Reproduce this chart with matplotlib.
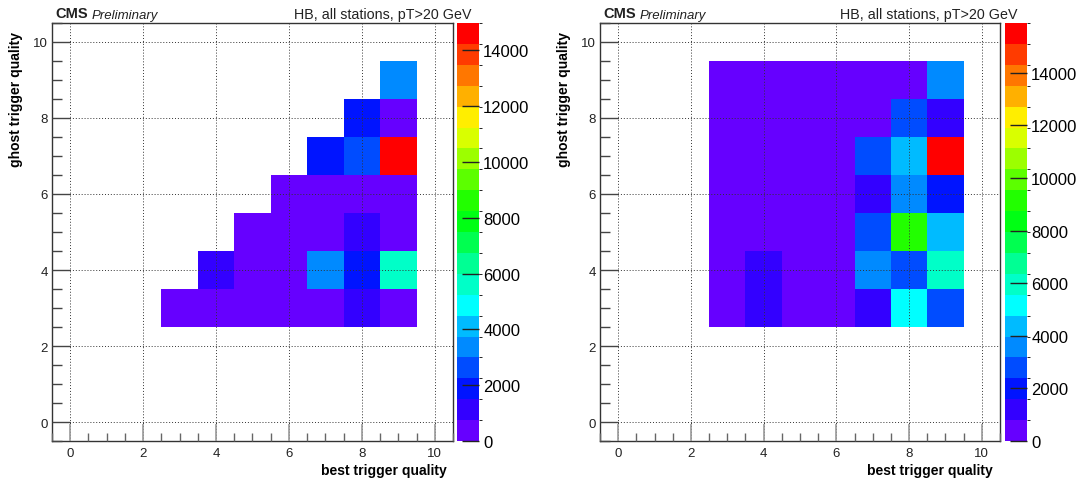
import matplotlib.pyplot as plt
import numpy as np
from matplotlib.colors import ListedColormap, BoundaryNorm
from matplotlib.ticker import MultipleLocator

plt.rcParams['font.family'] = ['Liberation Sans', 'DejaVu Sans']

# bin edges of the filled region (best / ghost trigger quality 3..9)
bin_edges = np.arange(2.5, 10.5, 1.0)

# counts: rows = ghost quality 3..9 (bottom to top), columns = best quality 3..9; 0 = empty bin
counts_left = [
    [300, 350, 300, 250, 300, 1000, 400],
    [0, 1100, 500, 400, 3400, 1800, 5600],
    [0, 0, 450, 350, 300, 900, 400],
    [0, 0, 0, 200, 250, 300, 350],
    [0, 0, 0, 0, 1900, 2600, 14980],
    [0, 0, 0, 0, 0, 1700, 600],
    [0, 0, 0, 0, 0, 0, 3400],
]
counts_right = [
    [300, 1200, 350, 300, 1300, 5100, 2800],
    [300, 1200, 400, 350, 3500, 2800, 5900],
    [250, 300, 300, 300, 2800, 9100, 4300],
    [250, 250, 300, 350, 1300, 3500, 1900],
    [200, 250, 300, 350, 2800, 4300, 15890],
    [200, 200, 250, 300, 300, 2800, 1300],
    [150, 200, 200, 250, 300, 400, 3500],
]

title = "HB, all stations, pT>20 GeV"
cbar_ticks = [0, 2000, 4000, 6000, 8000, 10000, 12000, 14000]

# ROOT-like violet -> red palette, 20 contour levels
palette = ['#6600ff', '#3300ff', '#0014ff', '#004cff', '#008aff', '#00bbff', '#00ffff',
           '#00ffc8', '#00ff94', '#00ff50', '#00ff14', '#22ff00', '#5cff00', '#9cff00',
           '#d9ff00', '#ffee00', '#ffb000', '#ff7700', '#ff3b00', '#ff0000']
cmap = ListedColormap(palette)

W, H = 1084, 481
fig = plt.figure(figsize=(W / 100, H / 100), dpi=100)


def box(x0, y0, x1, y1):
    return [x0 / W, 1 - y1 / H, (x1 - x0) / W, (y1 - y0) / H]


def panel(counts, ax_x, cb_x, cms_x, title_x, xlab_x, ylab_x):
    ax = fig.add_axes(box(ax_x[0], 24, ax_x[1], 442))
    cax = fig.add_axes(box(cb_x[0], 24, cb_x[1], 442))

    z = np.ma.masked_equal(np.array(counts, dtype=float), 0)
    levels = np.linspace(0, z.max(), 21)
    norm = BoundaryNorm(levels, 20)
    mesh = ax.pcolormesh(bin_edges, bin_edges, z, cmap=cmap, norm=norm,
                         edgecolors='none', antialiased=False)

    ax.set_xlim(-0.5, 10.5)
    ax.set_ylim(-0.5, 10.5)
    for a in (ax.xaxis, ax.yaxis):
        a.set_major_locator(MultipleLocator(2))
        a.set_minor_locator(MultipleLocator(0.5))
    ax.tick_params(axis='x', which='major', direction='in', length=12, width=1.2,
                   color='#999999', labelsize=9.5, pad=4)
    ax.tick_params(axis='x', which='minor', direction='in', length=6, width=1,
                   color='#666666')
    ax.tick_params(axis='y', which='major', direction='in', length=13, width=1,
                   color='#444444', labelsize=9.5, pad=3)
    ax.tick_params(axis='y', which='minor', direction='in', length=7, width=1,
                   color='#444444')
    ax.tick_params(labelcolor='#222222')
    ax.grid(True, which='major', linestyle=(0, (1, 2)), color='#333333', linewidth=0.7)
    ax.set_axisbelow(False)
    for s in ax.spines.values():
        s.set_color('#333333')
        s.set_linewidth(1)

    cb = fig.colorbar(mesh, cax=cax, ticks=cbar_ticks)
    cb.outline.set_visible(False)
    cax.tick_params(direction='in', length=12, width=1, labelsize=12, pad=3, color='#222222')

    fig.text(cms_x / W, 1 - 18.5 / H, "CMS", fontsize=10.5, fontweight='bold',
             va='baseline', ha='left', color='#222222')
    fig.text((cms_x + 36.5) / W, 1 - 18.5 / H, "Preliminary", fontsize=9.5,
             fontstyle='italic', va='baseline', ha='left', color='#222222')
    fig.text(title_x / W, 1 - 18.5 / H, title, fontsize=10.3, va='baseline',
             ha='right', color='#222222')
    fig.text(xlab_x / W, 1 - 471 / H, "best trigger quality", fontsize=10,
             fontweight='bold', va='center', ha='right')
    fig.text(ylab_x / W, 1 - 32 / H, "ghost trigger quality", fontsize=10,
             fontweight='bold', va='top', ha='center', rotation=90)


panel(counts_left, (52, 453), (457, 479), 55, 471, 446.5, 15.6)
panel(counts_right, (600, 1000), (1005, 1027), 603, 1017, 993, 564)

fig.savefig('out.png', dpi=100)
